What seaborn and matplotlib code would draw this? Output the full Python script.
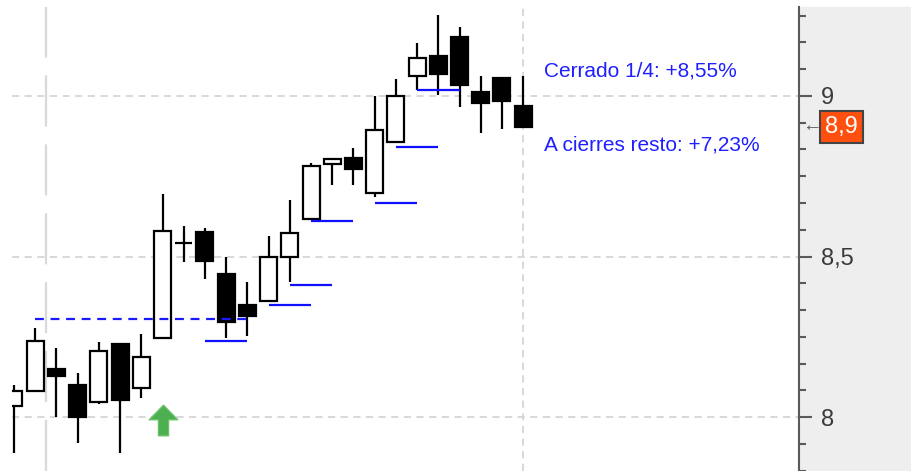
import matplotlib
matplotlib.use("Agg")
import matplotlib.pyplot as plt
import numpy as np
import pandas as pd
import seaborn as sns
from matplotlib.patches import Rectangle
from matplotlib.path import Path
from matplotlib.ticker import FixedLocator, FuncFormatter


# OHLC, one row per session
opens = [8.034, 8.081, 8.150, 8.100, 8.047, 8.227, 8.090, 8.246, 8.542, 8.576,
         8.445, 8.349, 8.361, 8.498, 8.617, 8.788, 8.807, 8.698, 8.857, 9.062,
         9.125, 9.184, 9.012, 9.056, 8.969]
highs = [8.100, 8.277, 8.215, 8.137, 8.234, 8.230, 8.259, 8.695, 8.595, 8.589,
         8.498, 8.421, 8.564, 8.676, 8.791, 8.806, 8.838, 9.000, 9.053, 9.165,
         9.252, 9.215, 9.062, 9.058, 9.062]
lows = [7.888, 8.078, 8.000, 7.919, 8.040, 7.888, 8.059, 8.244, 8.483, 8.430,
        8.246, 8.252, 8.358, 8.421, 8.615, 8.723, 8.723, 8.685, 8.855, 9.019,
        9.003, 8.966, 8.885, 8.897, 8.900]
closes = [8.081, 8.237, 8.128, 8.000, 8.206, 8.053, 8.187, 8.579, 8.542, 8.486,
          8.296, 8.315, 8.498, 8.573, 8.782, 8.804, 8.773, 8.894, 9.000, 9.118,
          9.069, 9.034, 8.978, 8.984, 8.903]

# trailing stop segments: start bar, end bar, level
stop_start = [9, 12, 13, 14, 17, 18, 19]
stop_end = [11, 14, 15, 16, 19, 20, 21]
stop_level = [8.237, 8.349, 8.411, 8.611, 8.667, 8.841, 9.019]

# entry level (dashed) and buy signal
entry_start, entry_end, entry_level = 1, 11, 8.305
signal_bar, signal_price = 7, 7.99

separators = [1.5, 24]
major_ticks = [8, 8.5, 9]

note_closed = "Cerrado 1/4: +8,55%"
note_rest = "A cierres resto: +7,23%"

df = pd.DataFrame({"open": opens, "high": highs, "low": lows, "close": closes})
df["bar"] = np.arange(len(df))
df["up"] = df["close"] >= df["open"]

sns.set_style("white")
plt.rcParams["font.family"] = ["Liberation Sans", "DejaVu Sans"]

fig = plt.figure(figsize=(9.12, 4.71), dpi=100)
ax = fig.add_axes([12 / 912, 0, 787 / 912, 464 / 471])
# grey price-scale panel behind the axis labels
fig.patches.append(Rectangle((800 / 912, 0), 112 / 912, 464 / 471,
                             transform=fig.transFigure, color="#eeeeee", zorder=-5))

# grid
for lvl in major_ticks:
    ax.axhline(lvl, color="#d6d6d6", lw=1.3, ls=(0, (4, 3)), zorder=0)
ax.axvline(separators[0], color="#d9d9d9", lw=1.6, ls=(0, (23, 8)), zorder=0)
ax.axvline(separators[1], color="#d6d6d6", lw=1.3, ls=(0, (4, 3)), zorder=0)

# candles
ax.vlines(df["bar"], df["low"], df["high"], color="black", lw=1.6, zorder=2)
body_lo = df[["open", "close"]].min(axis=1)
body_hi = df[["open", "close"]].max(axis=1)
ax.bar(df["bar"], body_hi - body_lo, bottom=body_lo, width=0.8,
       color=np.where(df["up"], "white", "black"), edgecolor="black",
       linewidth=1.6, zorder=3)

# entry + stops
ax.hlines(entry_level, entry_start, entry_end, color="#1a1aff", lw=1.6,
          ls=(0, (4, 3)), zorder=4)
ax.hlines(stop_level, stop_start, stop_end, color="#1010ff", lw=1.6, zorder=4)

# buy signal arrow
arrow = Path([(0, 1), (-0.93, 0.05), (-0.33, 0.05), (-0.33, -1),
              (0.33, -1), (0.33, 0.05), (0.93, 0.05), (0, 1)], closed=True)
sns.scatterplot(x=[signal_bar], y=[signal_price], marker=arrow, s=22 ** 2,
                color="#4caf50", edgecolor="#6cc06c", linewidth=1, ax=ax,
                zorder=5, legend=False)

# notes
ax.text(25.0, 9.078, note_closed, color="#1f1fff", fontsize=15, va="center",
        ha="left")
ax.text(25.0, 8.847, note_rest, color="#1f1fff", fontsize=15, va="center",
        ha="left")

# axes
ax.set_xlim(-0.094, 37.0)
ax.set_ylim(7.832, 9.277)
ax.set_xticks([])
for side in ["top", "left", "bottom"]:
    ax.spines[side].set_visible(False)
ax.spines["right"].set_color("#5a5a5a")
ax.spines["right"].set_linewidth(1.5)
ax.yaxis.tick_right()
ax.yaxis.set_major_locator(FixedLocator(major_ticks))
ax.yaxis.set_minor_locator(FixedLocator(np.arange(7.5, 9.5, 1 / 12)))
ax.yaxis.set_major_formatter(FuncFormatter(lambda v, p: f"{v:g}".replace(".", ",")))
ax.tick_params(axis="y", which="both", right=True, labelright=True, left=False,
               labelleft=False)
ax.tick_params(axis="y", which="major", length=9.5, width=1.5, color="#5a5a5a",
               pad=6, labelsize=17, labelcolor="#3a3a3a")
ax.tick_params(axis="y", which="minor", length=5, width=1.5, color="#5a5a5a")

# last price tag
last = closes[-1]
ytr = ax.get_yaxis_transform()
ax.text(1.033, last, f"{last:.1f}".replace(".", ","), transform=ytr,
        color="white", fontsize=17, va="center", ha="left", clip_on=False,
        bbox=dict(boxstyle="square,pad=0.22", fc="#ff5010", ec="#444444", lw=1.5))
ax.text(1.004, last, "\u2190", transform=ytr, color="#555555", fontsize=14,
        va="center", ha="left", clip_on=False)

fig.savefig("out.png", dpi=100)
